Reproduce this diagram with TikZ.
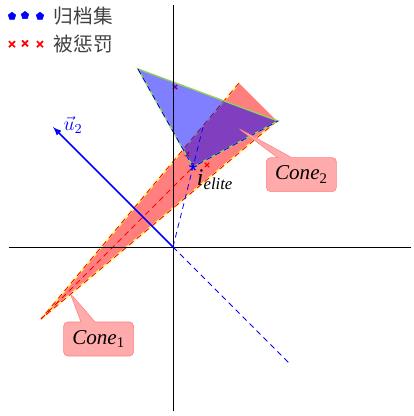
\RequirePackage{fix-cm}
\documentclass[tikz,border=0pt]{standalone}
\usepackage{fontspec}
\newfontfamily\cjk{Noto Sans CJK SC}
\newfontfamily\tnr{Liberation Serif}
\usepackage{xcolor}
\usetikzlibrary{arrows}
\usetikzlibrary{calc, math}
\usetikzlibrary{shapes.callouts}
\usetikzlibrary{plotmarks}

\definecolor{edgegreen}{RGB}{150,205,95}
\definecolor{edgeyellow}{RGB}{255,245,120}

\begin{document}
\begin{tikzpicture}[
conelabel/.style={rectangle callout, rounded corners=3pt, fill=red!33, draw=red!50,
  callout pointer width=0.35cm, minimum width=1.75cm, minimum height=0.85cm,
  font=\tnr\fontsize{15}{17}\selectfont},
ray/.style={dash pattern=on 4pt off 3pt, line width=0.6},
legendtext/.style={anchor=west, text=black!75, font=\cjk\fontsize{14}{16}\selectfont},
]
\useasboundingbox (-4.325,-4.225) rectangle (6.0,6.175);
\tikzmath{
\h=7.7;
}
\coordinate (O) at (0,0);
\coordinate (ielite) at (0.5,2);
\coordinate (apex) at (-3.3,-1.8);
\coordinate (r1) at ($(apex)+(50:\h)$);
\coordinate (r2) at ($(apex)+(40:\h)$);
\coordinate (b1) at (-0.875,4.45);
\coordinate (b2) at (2.625,3.15);

% cone 1
\fill[red, opacity=0.5] (apex) -- (r1) -- (r2) -- cycle;
\draw[edgeyellow, line width=1.2] (r1) -- (apex) -- (r2);
\draw[red, ray] (r1) -- (apex) -- (r2);
\draw[red, ray] (apex) -- (ielite);
% punished points
\draw[red, line width=0.9] plot[only marks, mark=x, mark size=2.2pt] coordinates {(0.05,4.0) (0.35,2.325) (0.85,2.05)};

% cone 2
\fill[blue, opacity=0.5] (ielite) -- (b1) -- (b2) -- cycle;
\draw[edgegreen, line width=1] (ielite) -- (b1) -- (b2) -- cycle;
\draw[blue, ray] (b1) -- (ielite) -- (b2);

% axes
\coordinate (xl) at (-4.1,0);
\coordinate (xr) at (5.95,0);
\coordinate (yb) at (0,-4.1);
\coordinate (yt) at (0,6.05);
\draw[line width=0.7] (xl) -- (xr);
\draw[line width=0.7] (yb) -- (yt);

% direction u2
\coordinate (u2) at (-3,3);
\coordinate (u2neg) at (2.9,-2.9);
\draw[-latex, blue, line width=1.1] (O) -- (u2);
\node[blue, font=\fontsize{14}{16}\selectfont] (u2lab) at (-2.5,3.05) {$\vec{u}_2$};
\draw[blue, ray] (O) -- (u2neg);
\draw[blue, ray] (O) -- ($1.5*(ielite)$);

% elite
\draw[blue, line width=0.9] plot[only marks, mark=star, mark size=2.8pt] coordinates {(ielite)};
\node[font=\tnr\itshape\fontsize{17}{19}\selectfont] (elitelab) at (1.05,1.68) {i\textsubscript{elite}};

% callouts
\coordinate (c1tip) at (-2.575,-1.15);
\coordinate (c2tip) at (1.625,2.975);
\node[conelabel, callout absolute pointer=(c1tip)] (cone1) at (-1.86,-2.3) {\itshape Cone\textsubscript{\upshape 1}};
\node[conelabel, callout absolute pointer=(c2tip)] (cone2) at (3.21,1.81) {\itshape Cone\textsubscript{\upshape 2}};

% legend
\draw[blue] plot[only marks, mark=pentagon*, mark size=2.8pt] coordinates {(-4.025,5.77) (-3.7,5.79) (-3.325,5.77)};
\node[legendtext] (archlab) at (-3.1,5.77) {归档集};
\draw[red, line width=1.2] plot[only marks, mark=x, mark size=3pt] coordinates {(-4.025,5.07) (-3.7,5.09) (-3.325,5.07)};
\node[legendtext] (punlab) at (-3.1,5.07) {被惩罚};

\end{tikzpicture}
\end{document}
